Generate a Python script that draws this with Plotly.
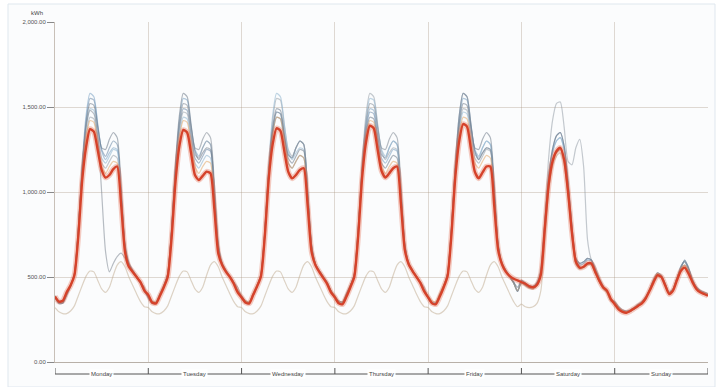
import plotly.graph_objects as go

# ---------------- data (kWh, hourly, one week Monday 00:00 -> Sunday 24:00) ----------------
days = ["Monday", "Tuesday", "Wednesday", "Thursday", "Friday", "Saturday", "Sunday"]
hours = list(range(169))
y_tickvals = [0, 500, 1000, 1500, 2000]
y_ticktext = ["0.00", "500.00", "1,000.00", "1,500.00", "2,000.00"]

# highlighted (red) week
red_mon = [385, 355, 360, 410, 450, 510, 740, 1070, 1265, 1370, 1355, 1245, 1130, 1085, 1100, 1135, 1150, 930, 650, 560, 530, 500, 470, 420]
red_tue = [395, 350, 345, 390, 440, 500, 730, 1060, 1270, 1365, 1350, 1230, 1100, 1070, 1095, 1120, 1110, 900, 640, 570, 530, 500, 460, 410]
red_wed = [380, 350, 345, 395, 445, 505, 745, 1080, 1280, 1375, 1360, 1240, 1120, 1080, 1100, 1130, 1140, 920, 650, 570, 530, 495, 460, 410]
red_thu = [380, 345, 340, 385, 440, 500, 740, 1080, 1290, 1390, 1375, 1250, 1125, 1085, 1110, 1140, 1150, 930, 660, 575, 535, 500, 465, 415]
red_fri = [380, 345, 340, 385, 440, 505, 750, 1090, 1300, 1400, 1385, 1255, 1120, 1080, 1115, 1150, 1150, 920, 660, 575, 530, 505, 490, 480]
red_sat = [470, 460, 445, 440, 455, 515, 780, 1040, 1180, 1240, 1260, 1190, 1000, 760, 590, 555, 560, 580, 580, 530, 480, 440, 420, 370]
red_sun = [340, 310, 295, 290, 300, 315, 330, 345, 375, 420, 470, 510, 500, 450, 400, 420, 480, 535, 555, 520, 470, 430, 410, 400]
red_end = 390

# weekday daily profiles of the other weeks
wd_a = [380, 350, 350, 400, 450, 520, 780, 1150, 1420, 1550, 1540, 1390, 1250, 1210, 1260, 1300, 1280, 1000, 690, 580, 540, 505, 470, 420]
wd_b = [390, 355, 350, 395, 445, 515, 770, 1130, 1380, 1490, 1480, 1340, 1200, 1170, 1210, 1250, 1240, 980, 680, 575, 535, 500, 465, 415]
wd_c = [385, 360, 355, 405, 455, 510, 760, 1110, 1340, 1440, 1430, 1300, 1170, 1140, 1180, 1215, 1200, 960, 670, 570, 530, 500, 465, 420]
wd_d = [390, 355, 355, 400, 450, 510, 760, 1100, 1320, 1420, 1410, 1280, 1150, 1110, 1150, 1180, 1170, 940, 665, 570, 530, 500, 465, 420]
wd_e = [380, 345, 345, 395, 445, 515, 770, 1140, 1400, 1520, 1510, 1380, 1260, 1250, 1310, 1350, 1320, 1050, 700, 585, 540, 505, 470, 440]
wd_f = [375, 345, 345, 390, 445, 520, 790, 1170, 1450, 1580, 1560, 1400, 1240, 1190, 1230, 1260, 1250, 990, 680, 575, 535, 500, 465, 415]
wd_g = [385, 352, 350, 398, 448, 512, 765, 1120, 1360, 1470, 1460, 1330, 1220, 1200, 1260, 1300, 1280, 1010, 690, 578, 536, 502, 468, 418]
wd_mon_off = [390, 355, 350, 400, 450, 515, 770, 1130, 1380, 1480, 1460, 1330, 1000, 650, 530, 580, 620, 640, 610, 560, 530, 495, 460, 420]
wd_hol = [320, 295, 285, 285, 300, 330, 390, 450, 505, 535, 530, 480, 430, 410, 440, 510, 570, 590, 560, 500, 450, 400, 355, 325]

sat_a = [470, 455, 440, 440, 460, 525, 800, 1080, 1230, 1300, 1320, 1250, 1040, 780, 600, 570, 580, 600, 595, 540, 485, 440, 415, 365]
sat_b = [480, 465, 450, 445, 465, 530, 810, 1090, 1250, 1330, 1350, 1270, 1060, 800, 610, 580, 590, 610, 600, 545, 490, 445, 420, 370]
sat_c = [465, 450, 435, 430, 450, 510, 770, 1030, 1170, 1230, 1250, 1180, 990, 750, 580, 550, 560, 575, 575, 525, 475, 435, 410, 360]
sat_work = [470, 455, 440, 440, 470, 560, 850, 1200, 1420, 1520, 1530, 1380, 1180, 1160, 1260, 1310, 1150, 720, 600, 560, 500, 450, 415, 365]
sat_hol = [340, 325, 320, 325, 345, 420, 700, 1000, 1150, 1210, 1230, 1160, 970, 740, 575, 545, 555, 570, 570, 520, 472, 432, 408, 358]

sun_a = [350, 320, 300, 295, 300, 315, 335, 350, 380, 425, 480, 520, 505, 455, 405, 425, 490, 545, 570, 530, 475, 435, 415, 405]
sun_b = [345, 315, 298, 292, 298, 312, 330, 348, 378, 420, 475, 515, 500, 450, 400, 420, 485, 560, 590, 545, 480, 440, 420, 410]
sun_c = [355, 325, 305, 300, 305, 320, 340, 355, 385, 430, 485, 525, 510, 460, 410, 430, 495, 550, 600, 555, 485, 440, 418, 402]

weeks = [
    ([wd_a, wd_b, wd_c, wd_g, wd_f, sat_b, sun_b], 400, "rgba(105,135,165,0.55)"),
    ([wd_f, wd_a, wd_g, wd_b, wd_a, sat_a, sun_c], 395, "rgba(120,160,195,0.55)"),
    ([wd_c, wd_g, wd_a, wd_f, wd_b, sat_work, sun_a], 398, "rgba(140,150,160,0.5)"),
    ([wd_b, wd_c, wd_f, wd_a, wd_g, sat_a, sun_b], 402, "rgba(150,185,210,0.6)"),
    ([wd_d, wd_d, wd_c, wd_d, wd_c, sat_c, sun_a], 396, "rgba(225,160,90,0.5)"),
    ([wd_e, wd_f, wd_b, wd_c, wd_e, sat_b, sun_c], 392, "rgba(95,110,125,0.5)"),
    ([wd_mon_off, wd_e, wd_g, wd_e, wd_f, sat_c, sun_b], 400, "rgba(125,135,145,0.55)"),
    ([wd_hol, wd_hol, wd_hol, wd_hol, wd_hol, sat_hol, sun_a], 398, "rgba(195,175,150,0.55)"),
]

# ---------------- figure ----------------
fig = go.Figure()

for day_lists, end_val, col in weeks:
    vals = []
    for d in day_lists:
        vals += d
    vals.append(end_val)
    fig.add_trace(go.Scatter(x=hours, y=vals, mode="lines",
                             line=dict(color=col, width=1.2, shape="spline", smoothing=0.6),
                             hoverinfo="skip", showlegend=False))

red_vals = red_mon + red_tue + red_wed + red_thu + red_fri + red_sat + red_sun + [red_end]
fig.add_trace(go.Scatter(x=hours, y=red_vals, mode="lines",
                         line=dict(color="rgba(230,110,80,0.35)", width=5.5, shape="spline", smoothing=0.6),
                         hoverinfo="skip", showlegend=False))
fig.add_trace(go.Scatter(x=hours, y=red_vals, mode="lines",
                         line=dict(color="#d5422a", width=2.4, shape="spline", smoothing=0.6),
                         showlegend=False))

# geometry helpers (plot area height 340 px)
PH = 340.0
axis_y = -12 / PH
tick_top = -6 / PH

shapes = [
    dict(type="rect", xref="paper", yref="paper", x0=-47 / 653, x1=1 + 7 / 653, y0=-25 / PH, y1=1 + 18 / PH,
         line=dict(color="#dfe7ee", width=1), fillcolor="#fbfcfd", layer="below"),
    dict(type="line", xref="x", yref="paper", x0=0, x1=168, y0=axis_y, y1=axis_y,
         line=dict(color="#555", width=1)),
]
for i in range(8):
    shapes.append(dict(type="line", xref="x", yref="paper", x0=24 * i, x1=24 * i, y0=axis_y, y1=tick_top,
                       line=dict(color="#555", width=1)))

annotations = [
    dict(x=12 + 24 * i, y=axis_y, xref="x", yref="paper", text=d, showarrow=False,
         font=dict(size=6, color="#444", family="Liberation Sans"), bgcolor="white",
         xanchor="center", yanchor="middle", borderpad=1)
    for i, d in enumerate(days)
]
annotations.append(dict(x=-10 / 653, y=1 + 9 / PH, xref="paper", yref="paper", text="kWh", showarrow=False,
                        font=dict(size=6, color="#444", family="Liberation Sans"),
                        xanchor="right", yanchor="middle"))

fig.update_layout(
    width=723, height=387,
    margin=dict(l=55, r=15, t=22, b=25),
    paper_bgcolor="white",
    plot_bgcolor="#fdefe1",
    shapes=shapes,
    annotations=annotations,
    xaxis=dict(range=[0, 168], tickvals=[24 * i for i in range(8)], showticklabels=False,
               showgrid=True, gridcolor="rgba(170,150,130,0.35)", gridwidth=1, zeroline=False,
               showline=True, linecolor="#b8b0a8", ticks=""),
    yaxis=dict(range=[0, 2000], tickvals=y_tickvals, ticktext=y_ticktext,
               tickfont=dict(size=6, color="#555", family="Liberation Sans"),
               ticks="outside", ticklen=7, tickcolor="#888",
               showgrid=True, gridcolor="rgba(170,150,130,0.35)", gridwidth=1, zeroline=False,
               showline=True, linecolor="#c8c0b8"),
)

fig.write_html("out.html")
